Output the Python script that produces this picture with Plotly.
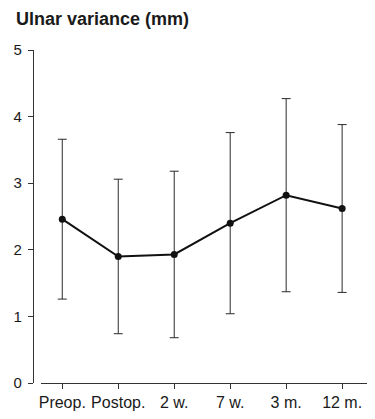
import plotly.graph_objects as go

categories = ["Preop.", "Postop.", "2 w.", "7 w.", "3 m.", "12 m."]
means = [2.46, 1.90, 1.93, 2.40, 2.82, 2.62]
sds = [1.20, 1.16, 1.25, 1.36, 1.45, 1.26]
y_ticks = [0, 1, 2, 3, 4, 5]
title_text = "Ulnar variance (mm)"

FONT = "Liberation Sans, Arial, sans-serif"
INK = "#1a1a1a"

# page body has an 8px default margin; compensate so the drawing lands in place
OFF = 8
W, H = 375 - OFF, 419 - OFF
L, R, T, B = 33 - OFF, 6, 50 - OFF, 36
pw = W - L - R
ph = H - T - B

fig = go.Figure()
fig.add_trace(go.Scatter(
    x=list(range(len(categories))),
    y=means,
    mode="lines+markers",
    line=dict(color="#111111", width=2),
    marker=dict(color="#111111", size=7),
    error_y=dict(type="data", array=sds, visible=True,
                 color="#2a2a2a", thickness=1, width=4.5),
    cliponaxis=False,
    showlegend=False,
))

fig.update_layout(
    width=W, height=H,
    margin=dict(l=L, r=R, t=T, b=B, autoexpand=False),
    paper_bgcolor="white", plot_bgcolor="white",
    font=dict(family=FONT, color=INK),
    xaxis=dict(
        domain=[(41 - 33) / pw, 1],
        range=[-0.38, 5.48],
        tickmode="array",
        tickvals=list(range(len(categories))),
        ticktext=categories,
        showline=True, linecolor="#333333", linewidth=1.2,
        ticks="outside", ticklen=5, tickcolor="#333333", tickwidth=1,
        showgrid=False, zeroline=False,
        tickfont=dict(size=16, color=INK),
        automargin=False,
    ),
    yaxis=dict(
        anchor="free", position=0,
        range=[0, 5],
        tickmode="array", tickvals=y_ticks,
        showline=True, linecolor="#333333", linewidth=1.2,
        ticks="outside", ticklen=5, tickcolor="#333333", tickwidth=1,
        ticklabelstandoff=3,
        showgrid=False, zeroline=False,
        tickfont=dict(size=15, color=INK),
        automargin=False,
    ),
    annotations=[dict(
        text="<b>" + title_text + "</b>",
        xref="paper", yref="paper",
        x=-(L - (14 - OFF)) / pw, y=1 + (T - (19 - OFF)) / ph,
        xanchor="left", yanchor="middle",
        showarrow=False,
        font=dict(size=18, color=INK, family=FONT),
    )],
)

fig.write_html("out.html")
